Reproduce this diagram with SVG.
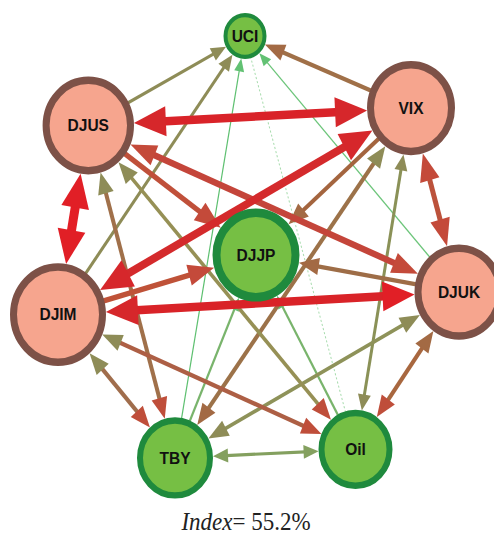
<svg xmlns="http://www.w3.org/2000/svg" width="494" height="536" viewBox="0 0 494 536">
<style>
.e{fill:none;stroke-linecap:butt}
.rn{fill:#f6a58e;stroke:#7d5147;stroke-width:7}
.gn{fill:#76bf44;stroke:#1f8a3d;stroke-width:6}
.t{font-family:"Liberation Sans",Arial,sans-serif;font-weight:bold;font-size:15.5px;fill:#111;text-anchor:middle}
.cap{font-family:"Liberation Serif","Times New Roman",serif;font-size:23px;fill:#222;text-anchor:middle}
</style>
<defs>
<marker id="xlA" markerUnits="userSpaceOnUse" orient="auto-start-reverse" refX="19" refY="0" markerWidth="40" markerHeight="40" overflow="visible"><path d="M0,-14L32,0L0,14z" fill="#e11f26"/></marker>
<marker id="xlB" markerUnits="userSpaceOnUse" orient="auto-start-reverse" refX="19" refY="0" markerWidth="40" markerHeight="40" overflow="visible"><path d="M0,-14L32,0L0,14z" fill="#d6272b"/></marker>
<marker id="lRB" markerUnits="userSpaceOnUse" orient="auto-start-reverse" refX="15" refY="0" markerWidth="30" markerHeight="30" overflow="visible"><path d="M0,-10L26,0L0,10z" fill="#c44a3a"/></marker>
<marker id="mBR" markerUnits="userSpaceOnUse" orient="auto-start-reverse" refX="12" refY="0" markerWidth="24" markerHeight="24" overflow="visible"><path d="M0,-8L20,0L0,8z" fill="#a36a44"/></marker>
<marker id="mRB" markerUnits="userSpaceOnUse" orient="auto-start-reverse" refX="12" refY="0" markerWidth="24" markerHeight="24" overflow="visible"><path d="M0,-8L20,0L0,8z" fill="#bf4e3a"/></marker>
<marker id="mOL" markerUnits="userSpaceOnUse" orient="auto-start-reverse" refX="12" refY="0" markerWidth="24" markerHeight="24" overflow="visible"><path d="M0,-8L20,0L0,8z" fill="#8e8c57"/></marker>
<marker id="sOL" markerUnits="userSpaceOnUse" orient="auto-start-reverse" refX="7" refY="0" markerWidth="20" markerHeight="20" overflow="visible"><path d="M0,-6.5L15,0L0,6.5z" fill="#8e8c57"/></marker>
<marker id="sOG" markerUnits="userSpaceOnUse" orient="auto-start-reverse" refX="7" refY="0" markerWidth="20" markerHeight="20" overflow="visible"><path d="M0,-6.5L15,0L0,6.5z" fill="#84a05f"/></marker>
<marker id="sG" markerUnits="userSpaceOnUse" orient="auto-start-reverse" refX="7" refY="0" markerWidth="16" markerHeight="16" overflow="visible"><path d="M0,-5L12,0L0,5z" fill="#62c173"/></marker>
</defs>
<g transform="scale(1,1.07)">
<g id="connectors">
<path class="e" d="M355.5,420L245,33.6" stroke="#a8dcae" stroke-width="1" stroke-dasharray="2 2"/>
<path class="e" d="M175,428L240.4,59.7" stroke="#5dc070" stroke-width="1.2" marker-end="url(#sG)"/>
<path class="e" d="M459,273L262.7,53.4" stroke="#6cc57a" stroke-width="1.3" marker-end="url(#sG)"/>
<path class="e" d="M175,428L237,282.9" stroke="#79b46c" stroke-width="2.2" marker-end="url(#sG)"/>
<path class="e" d="M355.5,420L279.3,280.8" stroke="#79b46c" stroke-width="2.2" marker-end="url(#sG)"/>
<path class="e" d="M88.3,117.3L219,47.5" stroke="#8e8c57" stroke-width="3" marker-end="url(#sOL)"/>
<path class="e" d="M58,294L227.8,57.6" stroke="#8e8c57" stroke-width="3" marker-end="url(#sOL)"/>
<path class="e" d="M411,101L272.3,44.7" stroke="#a07048" stroke-width="4" marker-end="url(#mBR)"/>
<path class="e" d="M402.1,152.2L363.2,375.7" stroke="#8a9157" stroke-width="3" marker-start="url(#sOL)" marker-end="url(#sOL)"/>
<path class="e" d="M221,426L310.6,422" stroke="#84a05f" stroke-width="3" marker-start="url(#sOG)" marker-end="url(#sOG)"/>
<path class="e" d="M380.6,143.2L201.9,390.7" stroke="#9c7249" stroke-width="4" marker-start="url(#mOL)" marker-end="url(#mBR)"/>
<path class="e" d="M412.9,298.2L215.4,406" stroke="#8e9259" stroke-width="3.5" marker-start="url(#mOL)" marker-end="url(#mOL)"/>
<path class="e" d="M428.8,315.9L381.4,383.2" stroke="#a8673f" stroke-width="4" marker-start="url(#mBR)" marker-end="url(#mRB)"/>
<path class="e" d="M94.8,336.2L144.7,393.4" stroke="#a06d4c" stroke-width="4" marker-start="url(#mOL)" marker-end="url(#mRB)"/>
<path class="e" d="M102.7,169L162.6,383.7" stroke="#a0704a" stroke-width="4" marker-start="url(#mOL)" marker-end="url(#mRB)"/>
<path class="e" d="M123.8,157.6L325.7,386.3" stroke="#969055" stroke-width="3.5" marker-start="url(#mOL)" marker-end="url(#mRB)"/>
<path class="e" d="M109.6,315.8L314.1,402.5" stroke="#ad5f45" stroke-width="4" marker-start="url(#mOL)" marker-end="url(#mRB)"/>
<path class="e" d="M411,101L294.5,204.2" stroke="#a4653f" stroke-width="4" marker-end="url(#mBR)"/>
<path class="e" d="M459,273L306.8,247" stroke="#9e6d47" stroke-width="4" marker-end="url(#mBR)"/>
<path class="e" d="M88.3,117.3L211.8,206.4" stroke="#c0503a" stroke-width="5" marker-end="url(#lRB)"/>
<path class="e" d="M58,294L203.5,253.1" stroke="#bf5238" stroke-width="5" marker-end="url(#lRB)"/>
<path class="e" d="M425.8,154L444.1,219.6" stroke="#bc523b" stroke-width="5" marker-start="url(#lRB)" marker-end="url(#lRB)"/>
<path class="e" d="M140.6,139.3L407.8,251.5" stroke="#c4453a" stroke-width="6" marker-start="url(#lRB)" marker-end="url(#lRB)"/>
<path class="e" d="M111.5,264.7L361,128.3" stroke="#d42a2c" stroke-width="7.5" marker-start="url(#xlB)" marker-end="url(#xlB)"/>
<path class="e" d="M118.9,290.8L401.6,276" stroke="#d92328" stroke-width="8" marker-start="url(#xlB)" marker-end="url(#xlA)"/>
<path class="e" d="M146.9,114.3L354.1,103.9" stroke="#d92329" stroke-width="8" marker-start="url(#xlB)" marker-end="url(#xlB)"/>
<path class="e" d="M78.4,175.2L68.3,233.9" stroke="#e31e26" stroke-width="9" marker-start="url(#xlA)" marker-end="url(#xlA)"/>
</g>
<g id="UCI"><circle class="gn" cx="245" cy="33.6" r="19.5" style="stroke-width:4"/><text class="t" x="245" y="39">UCI</text></g>
<g id="DJUS"><circle class="rn" cx="88.3" cy="117.3" r="42.2"/><text class="t" x="88.3" y="122.8">DJUS</text></g>
<g id="VIX"><circle class="rn" cx="411" cy="101" r="40.5"/><text class="t" x="411" y="106.5">VIX</text></g>
<g id="DJIM"><circle class="rn" cx="58" cy="294" r="44.5"/><text class="t" x="58" y="299.5">DJIM</text></g>
<g id="DJJP"><circle class="gn" cx="256" cy="238.3" r="39.5" style="stroke-width:8"/><text class="t" x="256" y="243.8">DJJP</text></g>
<g id="DJUK"><circle class="rn" cx="459" cy="273" r="41"/><text class="t" x="459" y="278.5">DJUK</text></g>
<g id="TBY"><circle class="gn" cx="175" cy="428" r="35"/><text class="t" x="175" y="433.5">TBY</text></g>
<g id="Oil"><circle class="gn" cx="355.5" cy="420" r="34"/><text class="t" x="355.5" y="425.5">Oil</text></g>
<text class="cap" x="246" y="495.5"><tspan font-style="italic">Index</tspan>= 55.2%</text>
</g>
</svg>
